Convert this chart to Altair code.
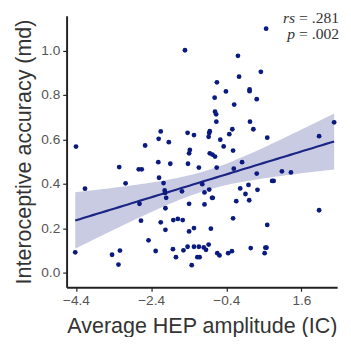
import altair as alt
import numpy as np
import pandas as pd

# HEP amplitude (x) and interoceptive accuracy (y)
hep = [-4.40, -4.16, -4.42, -3.25, -3.08, -3.44, -3.23, -3.27, -2.73, -2.65,
       -2.56, -2.71, -2.67, -2.47, -2.28, -2.145, -2.20, -1.93, -2.21, -2.19,
       -2.07, -2.04, -2.03, -2.00, -2.02, -2.145, -2.02, -1.89, -1.82, -1.74,
       -1.81, -1.69, -1.56, -1.58, -1.50, -1.43, -1.26, -1.37, -1.39, -1.42,
       -1.39, -1.39, -1.26, -1.54, -1.43, -1.26, -1.32, -1.13, -1.04, -0.98,
       -0.855, -0.78, -0.76, -0.98, -0.81, -1.13, -1.00, -0.94, -0.87, -1.17,
       -1.11, -0.64, -0.58, -0.35, -0.25, -0.655, -0.20, 0.02, -0.03, 0.19,
       0.11, 0.21, -0.135, -0.22, 0.25, -0.09, -0.06, -0.65, -0.41, 0.22,
       0.22, -0.71, -0.19, -0.70, -0.67, -0.665, 0.23, 0.32, -0.24, -0.84,
       -0.855, -0.32, -0.87, -0.56, -0.47, -0.22, -0.84, -0.77, -0.70, 0.66,
       0.52, 0.41, 0.69, 2.07, 2.47, 0.41, 1.08, 1.32, 0.82, 0.86,
       0.43, 2.07, 0.69, 0.62, 0.64, 0.67]
acc = [0.568, 0.379, 0.093, 0.476, 0.403, 0.082, 0.101, 0.038, 0.466, 0.466,
       0.573, 0.311, 0.235, 0.147, 0.099, 0.636, 0.603, 0.588, 0.498, 0.428,
       0.404, 0.371, 0.360, 0.338, 0.291, 0.228, 0.194, 0.491, 0.107, 0.071,
       0.238, 0.243, 0.238, 0.367, 1.001, 0.630, 0.620, 0.553, 0.538, 0.491,
       0.311, 0.187, 0.202, 0.102, 0.118, 0.118, 0.035, 0.474, 0.399, 0.362,
       0.375, 0.338, 0.338, 0.308, 0.199, 0.118, 0.115, 0.104, 0.128, 0.071,
       0.071, 0.089, 0.079, 0.089, 0.098, 0.474, 0.469, 0.498, 0.380, 0.396,
       0.355, 0.327, 0.323, 0.246, 0.112, 0.976, 0.882, 0.857, 0.816, 0.825,
       0.817, 0.788, 0.757, 0.725, 0.713, 0.680, 0.680, 0.646, 0.646, 0.637,
       0.629, 0.624, 0.612, 0.599, 0.569, 0.550, 0.538, 0.532, 0.523, 1.098,
       0.904, 0.781, 0.608, 0.615, 0.677, 0.447, 0.457, 0.452, 0.414, 0.414,
       0.374, 0.282, 0.216, 0.089, 0.114, 0.114]

x_ticks = [-4.4, -2.4, -0.4, 1.6]
y_ticks = [0.0, 0.2, 0.4, 0.6, 0.8, 1.0]
stat_vals = ["= .281", "= .002"]
stat_syms = ["rs", "p"]

df = pd.DataFrame({"hep": hep, "acc": acc})

# linear fit with 95% confidence band, computed from the data
xa = np.array(hep); ya = np.array(acc)
n = len(xa)
b1, b0 = np.polyfit(xa, ya, 1)
resid = ya - (b0 + b1 * xa)
s = np.sqrt(np.sum(resid ** 2) / (n - 2))
xm = xa.mean(); sxx = np.sum((xa - xm) ** 2)
grid = np.linspace(xa.min(), xa.max(), 60)
fit = b0 + b1 * grid
se = s * np.sqrt(1.0 / n + (grid - xm) ** 2 / sxx)
t = 1.98
band = pd.DataFrame({"hep": grid, "fit": fit, "lo": fit - t * se, "hi": fit + t * se})

xscale = alt.Scale(domain=[-4.65, 2.55], nice=False, zero=False)
yscale = alt.Scale(domain=[-0.064, 1.156], nice=False, zero=False)

xaxis = alt.Axis(values=x_ticks, format=".1f", title="Average HEP amplitude (IC)",
                 titlePadding=8)
yaxis = alt.Axis(values=y_ticks, format=".1f", title="Interoceptive accuracy (md)",
                 titlePadding=6)

area = alt.Chart(band).mark_area(color="#c9cbe3", opacity=1).encode(
    x=alt.X("hep:Q", scale=xscale, axis=xaxis),
    y=alt.Y("lo:Q", scale=yscale, axis=yaxis),
    y2="hi:Q",
)
line = alt.Chart(band).mark_line(color="#1b2585", strokeWidth=2.2).encode(
    x=alt.X("hep:Q", scale=xscale),
    y=alt.Y("fit:Q", scale=yscale),
)
pts = alt.Chart(df).mark_circle(size=24, color="#0a1a7e", opacity=1).encode(
    x=alt.X("hep:Q", scale=xscale),
    y=alt.Y("acc:Q", scale=yscale),
)

texts = []
for i, ypix in enumerate([7, 24]):
    d = pd.DataFrame({"sym": [stat_syms[i]], "val": [stat_vals[i]]})
    texts.append(alt.Chart(d).mark_text(
        align="right", baseline="alphabetic", font="Liberation Serif", fontSize=16,
        color="#333").encode(x=alt.value(279), y=alt.value(ypix), text="val:N"))
    texts.append(alt.Chart(d).mark_text(
        align="right", baseline="alphabetic", font="Liberation Serif", fontSize=16,
        fontStyle="italic", color="#333").encode(x=alt.value(234), y=alt.value(ypix), text="sym:N"))

chart = alt.layer(area, line, pts, *texts).properties(
    width=277, height=278,
    padding={"left": 60, "top": 4, "right": 6, "bottom": 47},
    autosize=alt.AutoSizeParams(type="none"),
).configure_view(stroke=None).configure_axis(
    grid=False, domainColor="#222", domainWidth=2, tickColor="#222", tickWidth=1.2,
    tickSize=4, labelFont="Liberation Sans", labelFontSize=14, labelColor="#555",
    titleFont="Liberation Sans", titleFontSize=22, titleFontWeight="normal",
    titleColor="#333", labelPadding=3,
)

chart.save("out.html", embed_options={"renderer": "svg", "actions": False})
